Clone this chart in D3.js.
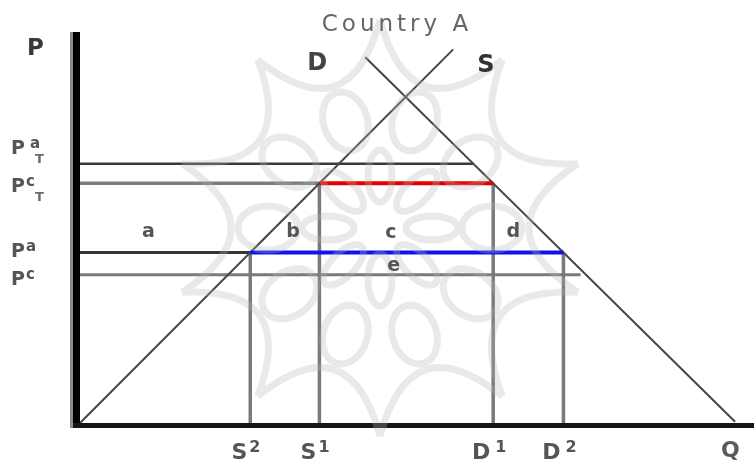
<!DOCTYPE html>
<html>
<head>
<meta charset="utf-8">
<script src="https://cdn.jsdelivr.net/npm/d3@7/dist/d3.min.js"></script>
<style>
  html, body { margin: 0; padding: 0; background: #fff; }
  svg { display: block; }
  text { font-family: "DejaVu Sans", Verdana, sans-serif; }
</style>
</head>
<body>
<svg id="chart" width="754" height="464"></svg>
<script>
// ---------------- data ----------------
const title = "Country A";
const axisLabels = ["P", "Q"];

// supply and demand curves (endpoints, in Q / P units)
const supplyQ = [0, 55.5];
const supplyP = [0, 57.5];
const demandQ = [42.5, 97.2];
const demandP = [56.3, 0.5];
const curveNames = ["D", "S"];

// price levels
const priceValues = [40, 37, 26.4, 23];
const priceBase = ["P", "P", "P", "P"];
const priceSup = ["a", "c", "a", "c"];
const priceSub = ["T", "T", "", ""];

// quantity labels (S2, S1, D1, D2)
const qtyBase = ["S", "S", "D", "D"];
const qtySup = ["2", "1", "1", "2"];

// welfare area labels and where they sit (Q, P units)
const areaNames = ["a", "b", "c", "d", "e"];
const areaQ = [10.4, 31.8, 46.3, 64.4, 46.7];
const areaP = [28.8, 28.8, 28.6, 28.7, 23.6];

// ---------------- layout ----------------
const svg = d3.select("#chart");
const x = d3.scaleLinear().domain([0, 100]).range([78, 754]);
const y = d3.scaleLinear().domain([0, 60]).range([425, 33]);

const supplyAt = p => supplyQ[0] + (p - supplyP[0]) * (supplyQ[1] - supplyQ[0]) / (supplyP[1] - supplyP[0]);
const demandAt = p => demandQ[0] + (p - demandP[0]) * (demandQ[1] - demandQ[0]) / (demandP[1] - demandP[0]);

const [pAT, pCT, pA, pC] = priceValues;
const S2 = supplyAt(pA), S1 = supplyAt(pCT), D1 = demandAt(pCT), D2 = demandAt(pA);
const qtyValues = [S2, S1, D1, D2];

const seg = (q0, p0, q1, p1, color, w) =>
  svg.append("line")
    .attr("x1", x(q0)).attr("y1", y(p0))
    .attr("x2", x(q1)).attr("y2", y(p1))
    .attr("stroke", color).attr("stroke-width", w);

// horizontal price lines (left parts)
seg(0, pAT, demandAt(pAT), pAT, "#3a3a3a", 2.5);
seg(0, pCT, S1, pCT, "#7c7c7c", 3.5);
seg(0, pA, S2, pA, "#353535", 3);
seg(0, pC, demandAt(pC) - 0.8, pC, "#7a7a7a", 3);

// vertical quantity lines
[[S2, pA], [S1, pCT], [D1, pCT], [D2, pA]].forEach(([q, p]) =>
  seg(q, p, q, 0, "#7a7a7a", 3.5));

// supply & demand curves
const line = d3.line().x(d => x(d[0])).y(d => y(d[1]));
svg.append("path").attr("d", line(d3.zip(supplyQ, supplyP)))
  .attr("fill", "none").attr("stroke", "#454545").attr("stroke-width", 2);
svg.append("path").attr("d", line(d3.zip(demandQ, demandP)))
  .attr("fill", "none").attr("stroke", "#454545").attr("stroke-width", 2);

// red (tariff) and blue (world price) segments
seg(S1, pCT, D1, pCT, "#e40000", 4);
seg(S2, pA, D2, pA, "#1212ee", 4);

// axes
svg.append("line").attr("x1", 71.5).attr("x2", 71.5).attr("y1", y(60) - 1).attr("y2", y(0) + 3)
  .attr("stroke", "#8a8a8a").attr("stroke-width", 3);
svg.append("line").attr("x1", 76.5).attr("x2", 76.5).attr("y1", y(60) - 1).attr("y2", y(0) + 3)
  .attr("stroke", "#000").attr("stroke-width", 7);
svg.append("line").attr("x1", 73).attr("x2", x(100)).attr("y1", y(0) + 0.5).attr("y2", y(0) + 0.5)
  .attr("stroke", "#161616").attr("stroke-width", 5);

// ---------------- watermark (decorative) ----------------
const wm = svg.append("g").attr("fill", "none").attr("stroke", "#b4b4b4")
  .attr("stroke-width", 7).attr("opacity", 0.3);
const cx = 380, cy = 228, nSp = 10, R = 208;
const pol = (r, a) => [cx + r * Math.cos(a), cy + r * Math.sin(a)];
for (let k = 0; k < nSp; k++) {
  const a0 = -Math.PI / 2 + k * 2 * Math.PI / nSp, a1 = a0 + 2 * Math.PI / nSp, am = (a0 + a1) / 2;
  const p0 = pol(R, a0), p1 = pol(R, a1), c = pol(100, am);
  wm.append("path").attr("d", `M${p0}Q${c} ${p1}`);
  const m = pol(112, am);
  wm.append("ellipse").attr("cx", m[0]).attr("cy", m[1]).attr("rx", 30).attr("ry", 22)
    .attr("transform", `rotate(${am * 180 / Math.PI},${m[0]},${m[1]})`);
}
for (let k = 0; k < 8; k++) {
  const a = -Math.PI / 2 + k * Math.PI / 4;
  const m = pol(52, a);
  wm.append("ellipse").attr("cx", m[0]).attr("cy", m[1]).attr("rx", 26).attr("ry", 12)
    .attr("transform", `rotate(${a * 180 / Math.PI},${m[0]},${m[1]})`);
}

// ---------------- text ----------------
svg.append("text").attr("x", 397).attr("y", 31).attr("text-anchor", "middle")
  .attr("font-size", 23).attr("letter-spacing", 4).attr("fill", "#666").text(title);

svg.append("text").attr("x", 27).attr("y", 55).attr("font-size", 23).attr("font-weight", "bold")
  .attr("fill", "#3a3a3a").text(axisLabels[0]);
svg.append("text").attr("x", 721).attr("y", 457).attr("font-size", 22).attr("font-weight", "bold")
  .attr("fill", "#5a5a5a").text(axisLabels[1]);

// curve names
svg.append("text").attr("x", x(demandQ[0]) - 58).attr("y", 70).attr("font-size", 24)
  .attr("font-weight", "bold").attr("fill", "#444").text(curveNames[0]);
svg.append("text").attr("x", x(supplyQ[1]) + 24).attr("y", 72).attr("font-size", 24)
  .attr("font-weight", "bold").attr("fill", "#333").text(curveNames[1]);

// price labels
const priceDy = [-10, 8.5, 4.5, 10];
priceValues.forEach((p, i) => {
  const by = y(p) + priceDy[i];
  svg.append("text").attr("x", 11).attr("y", by).attr("font-size", 19).attr("font-weight", "bold")
    .attr("fill", "#555").text(priceBase[i]);
  svg.append("text").attr("x", priceSub[i] && priceSup[i] === "a" ? 30 : 26).attr("y", by - 6)
    .attr("font-size", 15).attr("font-weight", "bold").attr("fill", "#555").text(priceSup[i]);
  if (priceSub[i]) svg.append("text").attr("x", 35).attr("y", by + 9).attr("font-size", 13)
    .attr("font-weight", "bold").attr("fill", "#6a6a6a").text(priceSub[i]);
});

// quantity labels
qtyValues.forEach((q, i) => {
  svg.append("text").attr("x", x(q) - 3).attr("y", 459).attr("text-anchor", "end")
    .attr("font-size", 22).attr("font-weight", "bold").attr("fill", "#555").text(qtyBase[i]);
  svg.append("text").attr("x", x(q) + (qtyBase[i] === "D" ? 2 : -1)).attr("y", 452)
    .attr("font-size", 16).attr("font-weight", "bold").attr("fill", "#555").text(qtySup[i]);
});

// area labels
areaNames.forEach((n, i) => {
  svg.append("text").attr("x", x(areaQ[i])).attr("y", y(areaP[i])).attr("text-anchor", "middle")
    .attr("font-size", 19).attr("font-weight", "bold").attr("fill", "#555").text(n);
});
</script>
</body>
</html>
